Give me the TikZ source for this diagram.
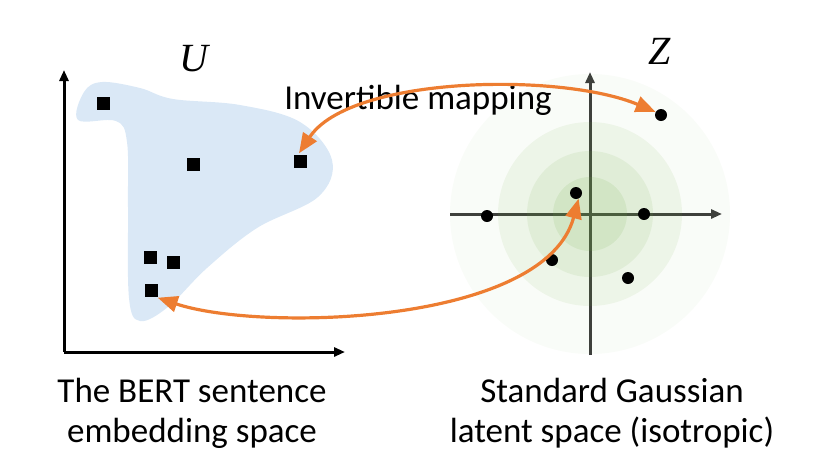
\documentclass[tikz,border=0pt]{standalone}
\usepackage{fontspec}
\setmainfont{Carlito}
\newfontfamily\varfont{Liberation Serif}
\usetikzlibrary{arrows.meta}
\definecolor{blob}{RGB}{218,232,246}
\definecolor{gauss}{RGB}{112,173,71}
\definecolor{flowor}{RGB}{237,125,49}
\definecolor{axisgray}{RGB}{60,60,60}
\tikzset{
  axis/.style={line width=3pt,draw=#1,-{Triangle[length=11pt,width=9pt]}},
  axis/.default=black,
  sq/.style={fill=black,minimum size=13pt,inner sep=0pt},
  pt/.style={circle,fill=black,minimum size=12pt,inner sep=0pt},
  map/.style={line width=3.2pt,draw=flowor,{Triangle[length=20pt,width=16pt]}-{Triangle[length=20pt,width=16pt]}},
  caption/.style={font=\fontsize{35}{40}\selectfont,align=center},
  space/.style={font=\fontsize{40}{40}\selectfont\varfont\itshape},
}
\begin{document}
\begin{tikzpicture}[x=1pt,y=-1pt]
  \useasboundingbox (0,0) rectangle (818,472);
  % embedding space
  \fill[blob] plot[smooth cycle,tension=0.6] coordinates {
    (78,120) (84,92) (102,82) (140,88) (173,99) (240,105) (300,122) (332,160)
    (318,197) (257,228) (207,268) (168,307) (140,321) (129,298) (128,207) (127,142) (116,121)};
  \draw[axis] (64,352) -- (64,70);
  \draw[axis] (64,352) -- (345,352);
  \foreach \x/\y [count=\i] in {103/103,193/164,300/161,150/257,173/262,151/290}
    \node[sq] (s\i) at (\x,\y) {};
  \node[space] (u) at (194,59) {U};
  % latent space
  \draw[axis=axisgray] (450,214) -- (722,214);
  \draw[axis=axisgray] (590,355) -- (590,72);
  \foreach \r/\o in {140/0.04,92/0.09,63/0.1,37/0.13}
    \fill[gauss,opacity=\o] (590,214) circle (\r);
  \foreach \x/\y [count=\i] in {661/115,576/193,487/216,644/214,552/260,628/278}
    \node[pt] (d\i) at (\x,\y) {};
  \node[space] (z) at (660,51) {Z};
  % mappings
  \node[font=\fontsize{35}{40}\selectfont] (inv) at (418,100) {Invertible mapping};
  \draw[map] ([xshift=-1pt,yshift=1pt]s3.north) .. controls (350,76) and (560,72) .. (d1.150);
  \draw[map] ([yshift=-1pt]s6.south east) .. controls (260,332) and (545,325) .. (d2.-65);
  % captions
  \node[caption] (cu) at (192,413) {The BERT sentence\\embedding space};
  \node[caption] (cz) at (612,413) {Standard Gaussian\\latent space (isotropic)};
\end{tikzpicture}
\end{document}
